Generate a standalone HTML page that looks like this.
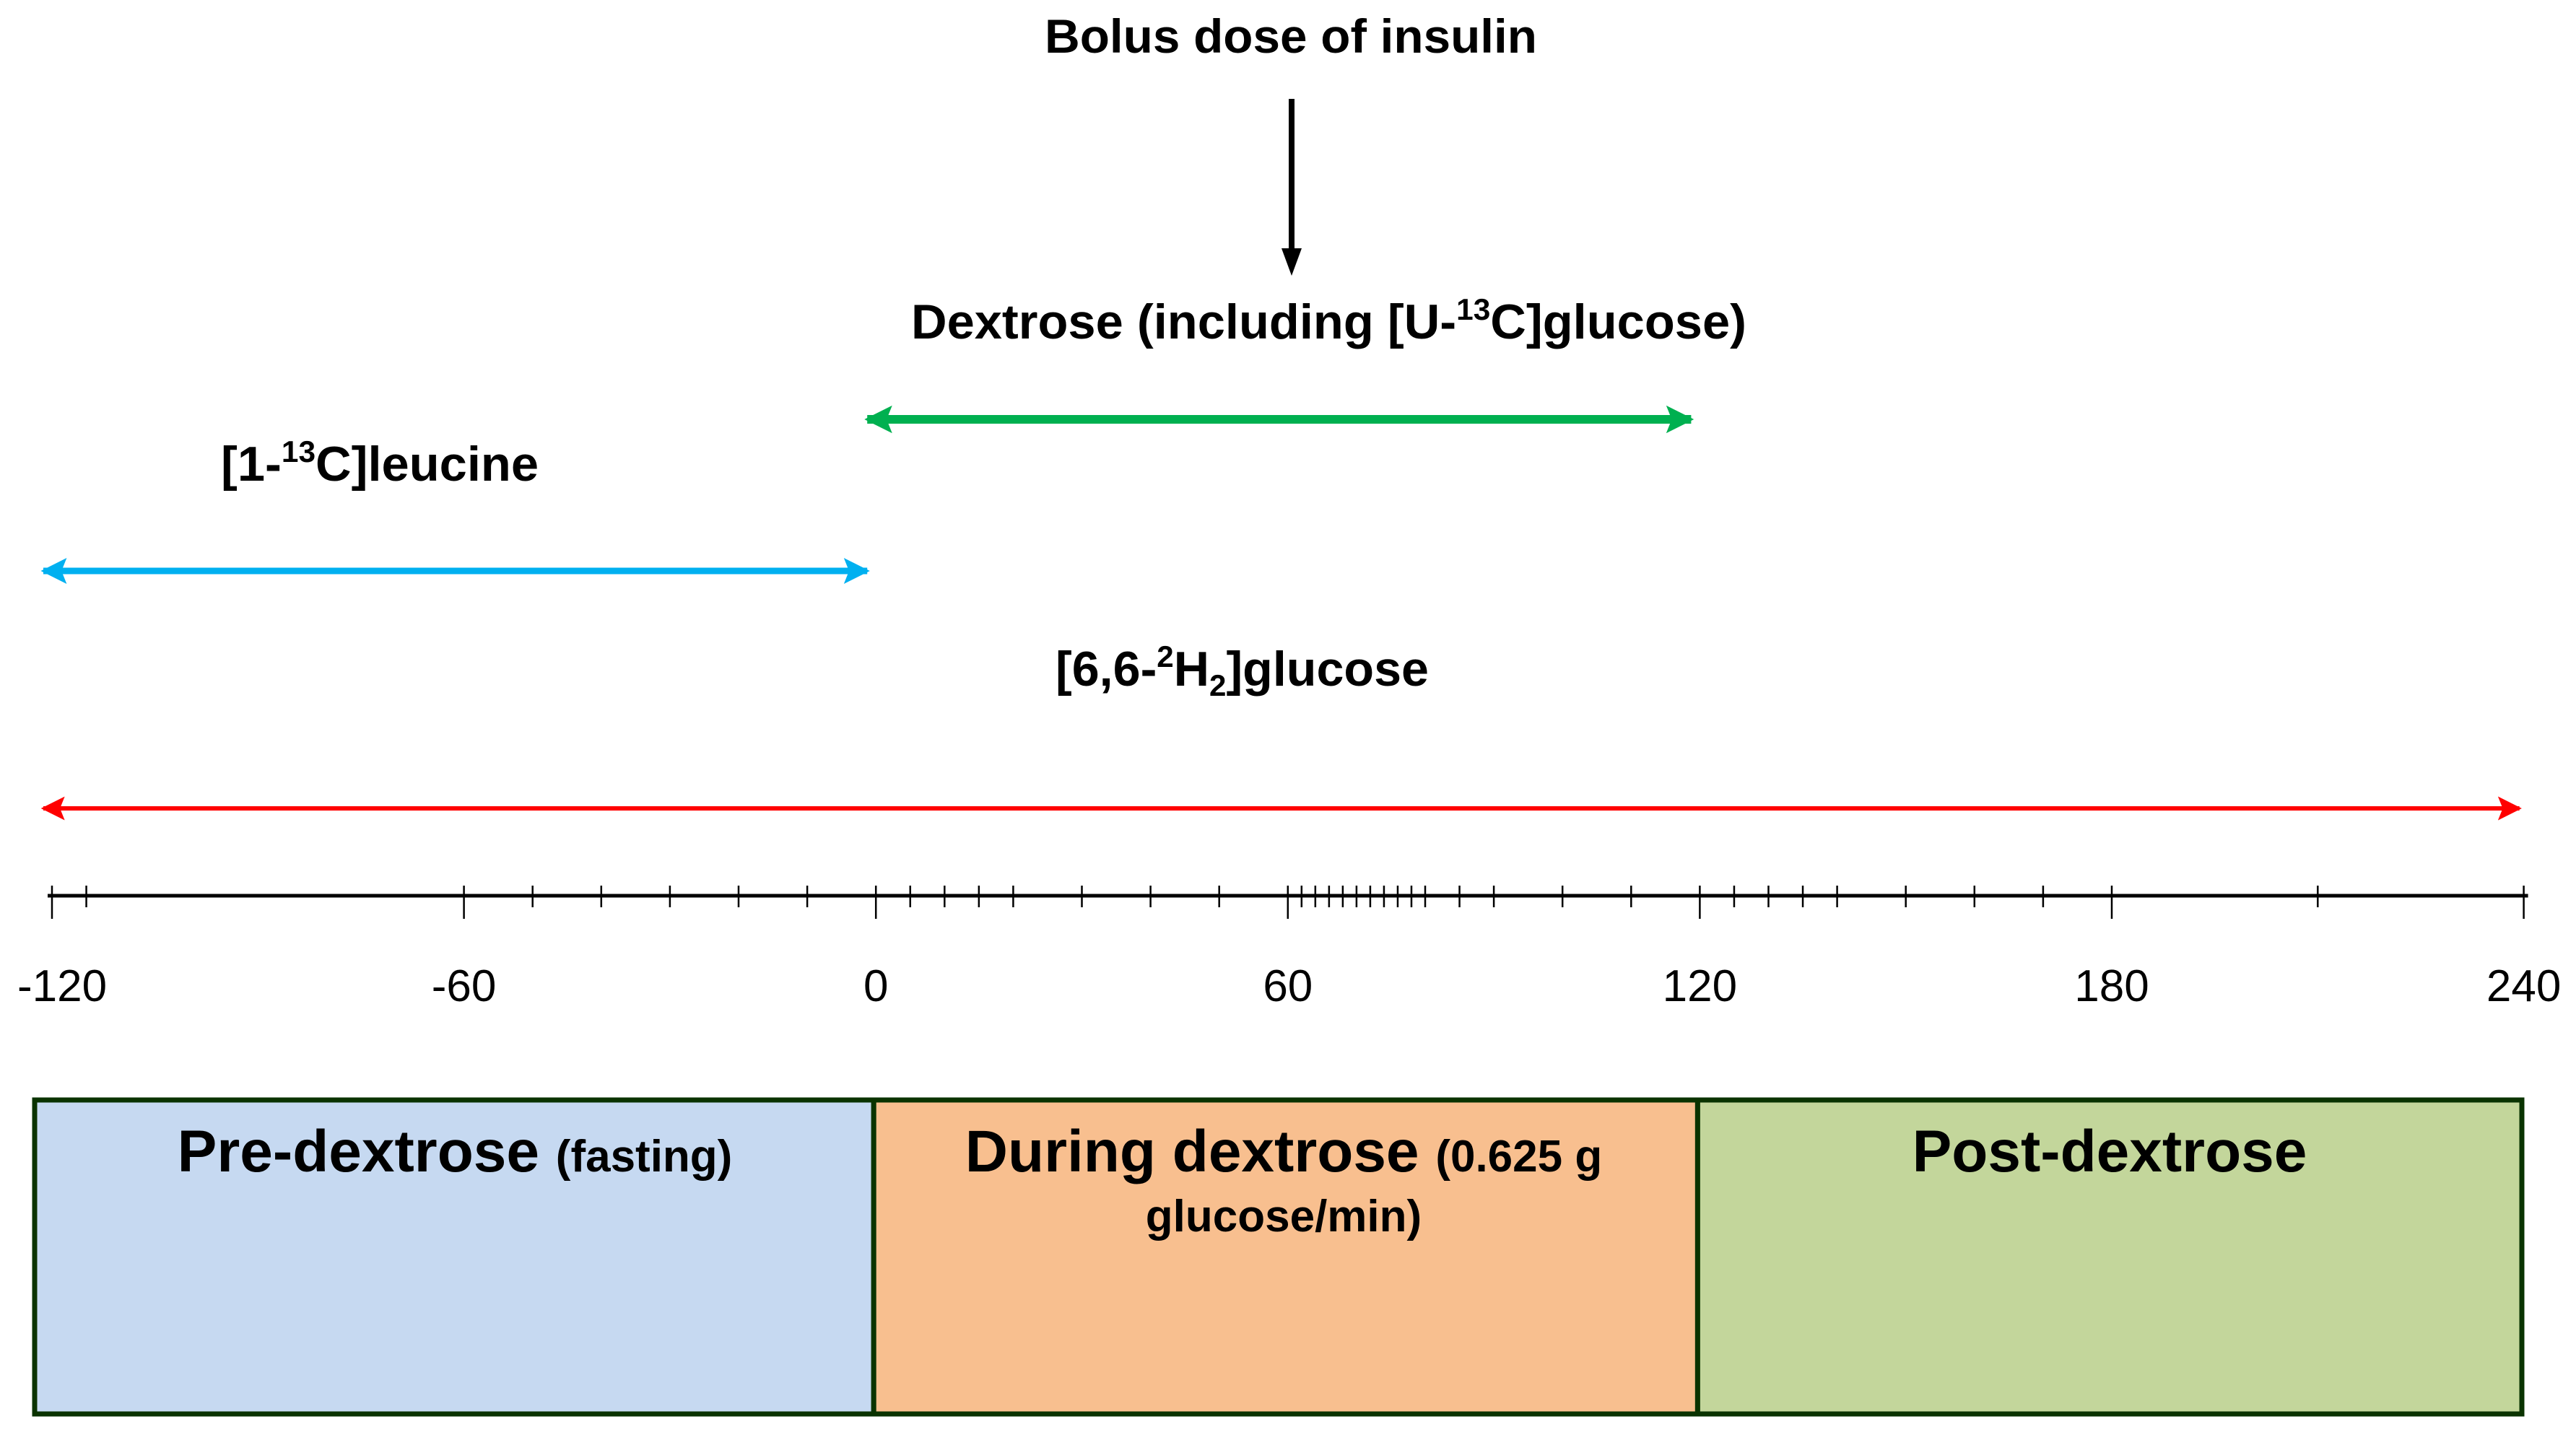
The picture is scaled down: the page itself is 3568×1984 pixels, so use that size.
<!DOCTYPE html>
<html><head><meta charset="utf-8"><style>
html,body{margin:0;padding:0;background:#fff}
svg{display:block}
text{font-family:"Liberation Sans",sans-serif;fill:#000}
</style></head><body>
<svg id="chart" width="3568" height="1984" viewBox="0 0 3568 1984" xmlns="http://www.w3.org/2000/svg">
<defs>
<marker id="ahG" viewBox="0 0 10 10" refX="9" refY="5" markerWidth="3.2" markerHeight="3.2" orient="auto-start-reverse"><path d="M0,0 L10,5 L0,10 L2,5 z" fill="#00b050"/></marker>
<marker id="ahB" viewBox="0 0 10 10" refX="9" refY="5" markerWidth="4" markerHeight="4" orient="auto-start-reverse"><path d="M0,0 L10,5 L0,10 L2,5 z" fill="#00b0f0"/></marker>
<marker id="ahR" viewBox="0 0 10 10" refX="9" refY="5" markerWidth="5.5" markerHeight="5.5" orient="auto-start-reverse"><path d="M0,0 L10,5 L0,10 L2,5 z" fill="#ff0000"/></marker>
</defs>
<g id="boxes"></g>
<g id="axis"></g>
<g id="arrows"></g>
<text x="1788" y="73" text-anchor="middle" font-size="66" font-weight="bold" textLength="682" lengthAdjust="spacingAndGlyphs">Bolus dose of insulin</text>
<line x1="1789" y1="137" x2="1789" y2="350" stroke="#000" stroke-width="8"/>
<polygon points="1775,344 1803,344 1789,382" fill="#000"/>
<text x="1262" y="469" font-size="68" font-weight="bold" textLength="1157" lengthAdjust="spacingAndGlyphs">Dextrose (including [U-<tspan font-size="42" dy="-26">13</tspan><tspan dy="26">C]glucose)</tspan></text>
<text x="306" y="666" font-size="68" font-weight="bold" textLength="440" lengthAdjust="spacingAndGlyphs">[1-<tspan font-size="42" dy="-26">13</tspan><tspan dy="26">C]leucine</tspan></text>
<text x="1462" y="950" font-size="68" font-weight="bold" textLength="517" lengthAdjust="spacingAndGlyphs">[6,6-<tspan font-size="42" dy="-26">2</tspan><tspan dy="26">H</tspan><tspan font-size="42" dy="14">2</tspan><tspan dy="-14">]glucose</tspan></text>
</svg>
<script>
const tickMinutes = [-120,-115,-60,-50,-40,-30,-20,-10,0,5,10,15,20,30,40,50,60,62,64,66,68,70,72,74,76,78,80,85,90,100,110,120,125,130,135,140,150,160,170,180,210,240];
const majorTicks = [-120,-60,0,60,120,180,240];
const tickLabels = ["-120","-60","0","60","120","180","240"];
const infusionNames = ["dextrose","leucine","deuterated-glucose"];
const infusionStart = [0,-120,-120];
const infusionEnd = [120,0,240];
const phaseNames = ["pre-dextrose","during-dextrose","post-dextrose"];
const phaseStart = [-120,0,120];
const phaseEnd = [0,120,240];

const NS="http://www.w3.org/2000/svg";
function x(t){return 72+(t+120)*9.51;}
function mk(tag,attrs,parent){const e=document.createElementNS(NS,tag);for(const k in attrs)e.setAttribute(k,attrs[k]);parent.appendChild(e);return e;}

const axis=document.getElementById('axis');
const axisY=1241;
let l=mk('line',{x1:x(-120)-6,y1:axisY,x2:x(240)+6,y2:axisY,stroke:'#000','stroke-width':5},axis);


tickMinutes.forEach(t=>{
  const major=majorTicks.includes(t);
  const tk=mk('line',{x1:x(t),y1:1227,x2:x(t),y2:major?1273:1257,stroke:'#000','stroke-width':2.5},axis);
  
  
});
majorTicks.forEach((t,i)=>{
  const tx=mk('text',{x:x(t)+(i===0?14:0),y:1387,'text-anchor':'middle','font-size':62},axis);
  tx.textContent=tickLabels[i];
  
  
});

const arrows=document.getElementById('arrows');
const arrowY=[581,791,1120];
const arrowColor=['#00b050','#00b0f0','#ff0000'];
const arrowMarker=['ahG','ahB','ahR'];
const arrowW=[12,9,6];
infusionNames.forEach((n,i)=>{
  const a=mk('line',{x1:x(infusionStart[i])-12,y1:arrowY[i],x2:x(infusionEnd[i])-12+(infusionEnd[i]===240?6:0),y2:arrowY[i],stroke:arrowColor[i],'stroke-width':arrowW[i],'marker-start':'url(#'+arrowMarker[i]+')','marker-end':'url(#'+arrowMarker[i]+')'},arrows);
  
  
});

const boxes=document.getElementById('boxes');
const fills=['#c6d9f1','#f8bf8f','#c3d69b'];
phaseNames.forEach((n,i)=>{
  const x0=i===0?48:x(phaseStart[i])-3, x1=i===2?3493:x(phaseEnd[i])-3;
  const r=mk('rect',{x:x0,y:1524,width:x1-x0,height:435,fill:fills[i],stroke:'#0a3300','stroke-width':7},boxes);
  
  
});
function phaseText(name,cx,y,parts){
  const t=mk('text',{x:cx,y:y,'text-anchor':'middle'},boxes);
  parts.forEach(p=>{const s=mk('tspan',{'font-size':p[1],'font-weight':'bold'},t);s.textContent=p[0];});
  
  
}
phaseText('pre-dextrose-label',630,1623,[["Pre-dextrose ",82],["(fasting)",62]]);
phaseText('during-dextrose-label',1778,1623,[["During dextrose ",82],["(0.625 g",62]]);
phaseText('during-dextrose-label-line2',1778,1706,[["glucose/min)",62]]);
phaseText('post-dextrose-label',2922,1623,[["Post-dextrose",82]]);
</script>
</body></html>
